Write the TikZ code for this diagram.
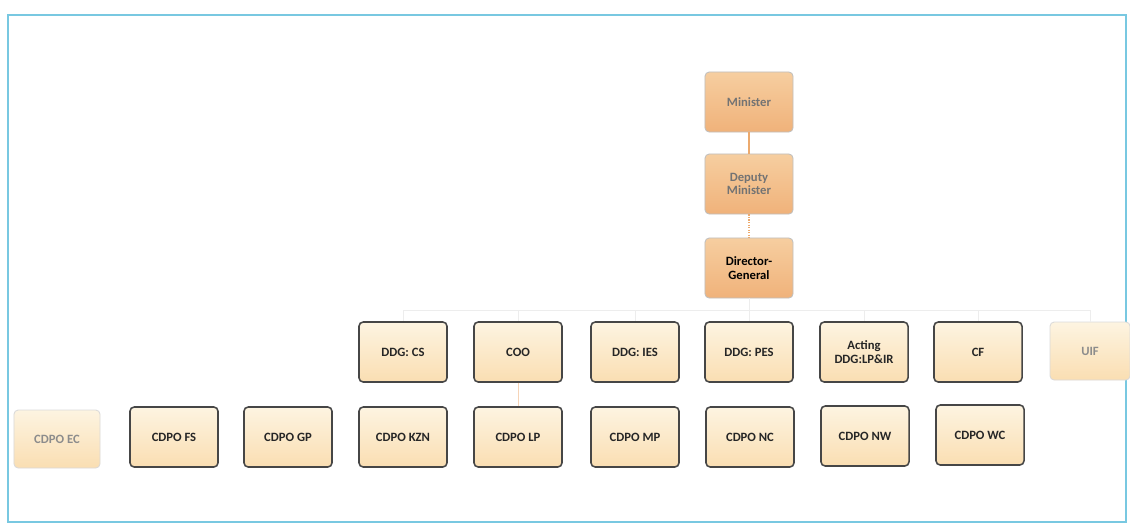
\documentclass[tikz,border=0pt]{standalone}
\usepackage{fontspec}
\setmainfont{Carlito}
\definecolor{framecyan}{RGB}{120,200,225}
\definecolor{edgegray}{RGB}{70,70,70}
\definecolor{creamtop}{RGB}{253,244,225}
\definecolor{creambot}{RGB}{250,222,178}
\definecolor{orangetop}{RGB}{246,206,160}
\definecolor{orangebot}{RGB}{240,178,122}
\definecolor{linkorange}{RGB}{236,170,110}
\tikzset{
  unit/.style={draw=edgegray, line width=1.1pt, rounded corners=3pt,
    top color=creamtop, bottom color=creambot,
    minimum width=2.2cm, minimum height=1.5cm, align=center,
    font=\fontsize{9}{9.5}\selectfont\bfseries, text=black!85},
  faded/.style={unit, draw=black!15, line width=0.6pt, text=black!45},
  office/.style={unit, draw=black!25, line width=0.6pt,
    top color=orangetop, bottom color=orangebot, text=black!55},
  link/.style={linkorange, line width=0.8pt}
}
\begin{document}
\begin{tikzpicture}[x=0.025cm, y=-0.025cm]
    \useasboundingbox (0,0) rectangle (1130,527);

    \draw[framecyan, line width=1pt] (8,15) rectangle (1126,522);

    % top of the department
    \node[office] (min) at (749,102) {Minister};
    \node[office] (dmin) at (749,184) {Deputy\\Minister};
    \node[unit, draw=black!25, line width=0.6pt, top color=orangetop, bottom color=orangebot,
          text=black] (dg) at (749,268) {Director-\\General};

    % branches
    \node[unit] (ddgcs) at (403,352) {DDG: CS};
    \node[unit] (coo) at (518,352) {COO};
    \node[unit] (ddgies) at (635,352) {DDG: IES};
    \node[unit] (ddgpes) at (749,352) {DDG: PES};
    \node[unit] (ddglp) at (864,352) {Acting\\DDG:LP\&IR};
    \node[unit] (cf) at (978,352) {CF};
    \node[faded, minimum width=2cm, minimum height=1.45cm] (uif) at (1090,351) {UIF};

    % provincial offices
    \node[faded, minimum width=2.15cm, minimum height=1.45cm] (ec) at (57,439) {CDPO EC};
    \node[unit] (fs) at (174,437) {CDPO FS};
    \node[unit] (gp) at (288,437) {CDPO GP};
    \node[unit] (kzn) at (403,437) {CDPO KZN};
    \node[unit] (lp) at (518,437) {CDPO LP};
    \node[unit] (mp) at (635,437) {CDPO MP};
    \node[unit] (nc) at (750,437) {CDPO NC};
    \node[unit] (nw) at (865,436) {CDPO NW};
    \node[unit] (wc) at (980,435) {CDPO WC};

    \draw[link] (min) -- (dmin);
    \draw[link, densely dotted] (dmin) -- (dg);
    \coordinate (bus) at (749,310);
    \draw[black!7] (dg) -- (bus);
    \draw[black!7] (ddgcs.north |- bus) -- (uif.north |- bus);
    \foreach \n in {ddgcs,coo,ddgies,ddgpes,ddglp,cf,uif}
        \draw[black!7] (\n.north |- bus) -- (\n.north);
    \draw[linkorange!50] (coo) -- (lp);
\end{tikzpicture}
\end{document}
